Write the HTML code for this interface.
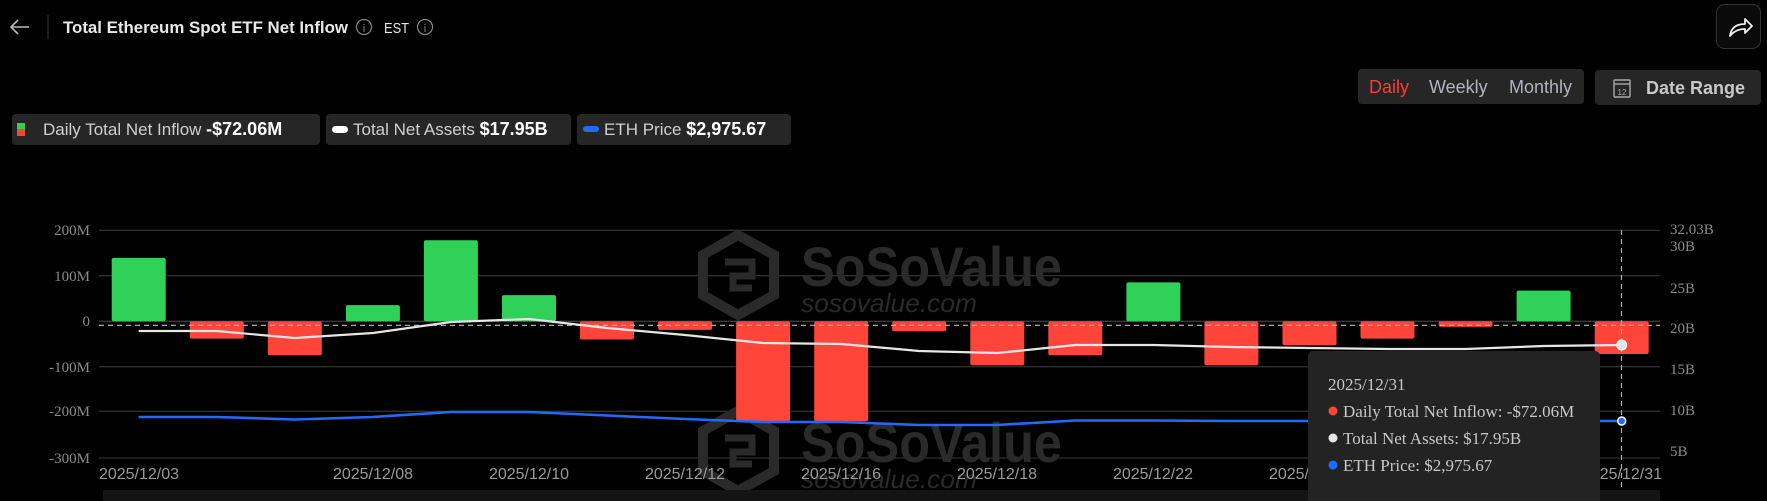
<!DOCTYPE html>
<html><head><meta charset="utf-8"><style>
html,body{margin:0;padding:0;background:#000;width:1767px;height:501px;overflow:hidden;font-family:"Liberation Sans",sans-serif}
.abs{position:absolute}
.leg{position:absolute;top:114px;height:31px;background:#262626;border-radius:4px;color:#cfcfcf;font-size:17px;line-height:31px;white-space:nowrap}
.leg b{color:#fff;font-size:18px}
</style></head><body>
<svg class="abs" style="left:0;top:0" width="1767" height="501">
 <!-- header -->
 <path d="M29 27 H11 M18 20 L11 27 L18 34" stroke="#bbb" stroke-width="1.6" fill="none"/>
 <line x1="48" y1="15" x2="48" y2="39" stroke="#333" stroke-width="1"/>
 <text x="63" y="33" fill="#e8e8e8" font-size="17" font-weight="bold" textLength="285" lengthAdjust="spacingAndGlyphs">Total Ethereum Spot ETF Net Inflow</text>
 <circle cx="364" cy="27" r="7.5" stroke="#888" fill="none" stroke-width="1.2"/><text x="364" y="32" fill="#888" font-size="11" text-anchor="middle">i</text>
 <text x="384" y="33" fill="#e8e8e8" font-size="15" textLength="25" lengthAdjust="spacingAndGlyphs">EST</text>
 <circle cx="425" cy="27" r="7.5" stroke="#888" fill="none" stroke-width="1.2"/><text x="425" y="32" fill="#888" font-size="11" text-anchor="middle">i</text>
 <rect x="1716.5" y="4.5" width="44" height="44" rx="8" fill="#0a0a0a" stroke="#333"/>
 <path d="M1730 36 C1731 28 1736 24 1745 24 V19 L1752 26 L1745 33 V29 C1739 29 1734 31 1730 36Z" fill="none" stroke="#eee" stroke-width="1.8" stroke-linejoin="round"/>
 <rect x="1358" y="69" width="226" height="35" rx="4" fill="#262626"/>
 <text x="1369" y="93" fill="#ff3b30" font-size="18">Daily</text>
 <text x="1429" y="93" fill="#b0b4c0" font-size="18">Weekly</text>
 <text x="1509" y="93" fill="#b0b4c0" font-size="18">Monthly</text>
 <rect x="1595" y="70" width="166" height="35" rx="4" fill="#262626"/>
 <rect x="1614" y="80" width="16" height="17" rx="1" fill="none" stroke="#aaa" stroke-width="1.4"/>
 <line x1="1614" y1="84" x2="1630" y2="84" stroke="#aaa" stroke-width="1.4"/>
 <text x="1622" y="95" fill="#aaa" font-size="8" text-anchor="middle">12</text>
 <text x="1646" y="94" fill="#c8c8c8" font-size="18" font-weight="bold">Date Range</text>

 <!-- grid -->
 <g stroke="#2e2e2e" stroke-width="1.3">
  <line x1="99" y1="230.3" x2="1660" y2="230.3"/>
  <line x1="99" y1="275.7" x2="1660" y2="275.7"/>
  <line x1="99" y1="321.3" x2="1660" y2="321.3" stroke="#3a3a3a"/>
  <line x1="99" y1="366.7" x2="1660" y2="366.7"/>
  <line x1="99" y1="411.3" x2="1660" y2="411.3"/>
  <line x1="99" y1="458" x2="1660" y2="458"/>
 </g>
 <g fill="#8a8a8a" font-size="15" font-family="Liberation Serif,serif" text-anchor="end">
  <text x="90" y="235">200M</text><text x="90" y="281">100M</text><text x="90" y="326">0</text>
  <text x="90" y="372">-100M</text><text x="90" y="416">-200M</text><text x="90" y="463">-300M</text>
 </g>
 <g fill="#8a8a8a" font-size="15" font-family="Liberation Serif,serif">
  <text x="1670" y="234">32.03B</text><text x="1670" y="251">30B</text><text x="1670" y="293">25B</text>
  <text x="1670" y="333">20B</text><text x="1670" y="374">15B</text><text x="1670" y="415">10B</text><text x="1670" y="456">5B</text>
 </g>

 <!-- watermark -->
 <g fill="#2a2a2a" stroke="none">
  <g>
   <path d="M738 235 L774 255 L774 295 L738 315 L703 295 L703 255Z" fill="none" stroke="#2a2a2a" stroke-width="10"/>
   <path d="M725 262 H752 V276 H733 V288 H752" fill="none" stroke="#2a2a2a" stroke-width="7"/>
   <text x="801" y="286" font-size="56" font-weight="bold" textLength="261" lengthAdjust="spacingAndGlyphs">SoSoValue</text>
   <text x="801" y="312" font-size="26" font-style="italic" textLength="176" lengthAdjust="spacingAndGlyphs">sosovalue.com</text>
  </g>
  <g transform="translate(0,176)">
   <path d="M738 235 L774 255 L774 295 L738 315 L703 295 L703 255Z" fill="none" stroke="#2a2a2a" stroke-width="10"/>
   <path d="M725 262 H752 V276 H733 V288 H752" fill="none" stroke="#2a2a2a" stroke-width="7"/>
   <text x="801" y="286" font-size="56" font-weight="bold" textLength="261" lengthAdjust="spacingAndGlyphs">SoSoValue</text>
   <text x="801" y="312" font-size="26" font-style="italic" textLength="176" lengthAdjust="spacingAndGlyphs">sosovalue.com</text>
  </g>
 </g>

 <!-- bars -->
 <g>
  <rect x="111.7" y="257.9" width="54" height="63.4" rx="2" fill="#30d158"/>
  <rect x="189.8" y="321.3" width="54" height="17.3" rx="2" fill="#ff453a"/>
  <rect x="267.8" y="321.3" width="54" height="34" rx="2" fill="#ff453a"/>
  <rect x="345.9" y="305.1" width="54" height="16.2" rx="2" fill="#30d158"/>
  <rect x="423.9" y="240.2" width="54" height="81.1" rx="2" fill="#30d158"/>
  <rect x="502" y="295.1" width="54" height="26.2" rx="2" fill="#30d158"/>
  <rect x="580" y="321.3" width="54" height="18.2" rx="2" fill="#ff453a"/>
  <rect x="658.1" y="321.3" width="54" height="8.6" rx="2" fill="#ff453a"/>
  <rect x="736.1" y="321.3" width="54" height="99.9" rx="2" fill="#ff453a"/>
  <rect x="814.2" y="321.3" width="54" height="99.9" rx="2" fill="#ff453a"/>
  <rect x="892.2" y="321.3" width="54" height="10" rx="2" fill="#ff453a"/>
  <rect x="970.3" y="321.3" width="54" height="44" rx="2" fill="#ff453a"/>
  <rect x="1048.3" y="321.3" width="54" height="34" rx="2" fill="#ff453a"/>
  <rect x="1126.4" y="282.4" width="54" height="38.9" rx="2" fill="#30d158"/>
  <rect x="1204.4" y="321.3" width="54" height="44" rx="2" fill="#ff453a"/>
  <rect x="1282.5" y="321.3" width="54" height="24" rx="2" fill="#ff453a"/>
  <rect x="1360.5" y="321.3" width="54" height="17.3" rx="2" fill="#ff453a"/>
  <rect x="1438.6" y="321.3" width="54" height="5.4" rx="2" fill="#ff453a"/>
  <rect x="1516.6" y="290.6" width="54" height="30.7" rx="2" fill="#30d158"/>
  <rect x="1594.7" y="321.3" width="54" height="32.7" rx="2" fill="#ff453a"/>
 </g>
 <line x1="99" y1="325.3" x2="1660" y2="325.3" stroke="#bbb" stroke-width="1.2" stroke-dasharray="5,4"/>
 <line x1="1621.5" y1="230" x2="1621.5" y2="501" stroke="#aaa" stroke-width="1.2" stroke-dasharray="5,4"/>

 <!-- lines -->
 <polyline fill="none" stroke="#e6e6e6" stroke-width="2.2" stroke-linejoin="round" points="138.7,331 216.8,331 294.8,338 372.9,333 450.9,322 529,319 607,328 685.1,335 763.1,343 841.2,344 919.2,351 997.3,353 1075.3,345 1153.4,345 1231.4,347 1309.5,348 1387.5,349 1465.6,349 1543.6,346 1621.7,345"/>
 <polyline fill="none" stroke="#1f6bff" stroke-width="2.6" stroke-linejoin="round" points="138.7,417 216.8,417 294.8,419.5 372.9,417 450.9,412 529,412 607,415.5 685.1,419 763.1,422 841.2,422 919.2,425 997.3,425 1075.3,420.5 1153.4,420.5 1231.4,421 1309.5,421 1387.5,421 1465.6,421 1543.6,421 1621.7,421"/>
 <circle cx="1621.7" cy="345" r="5" fill="#e6e6e6" stroke="#fff"/>
 <circle cx="1621.7" cy="421" r="4" fill="#1f6bff" stroke="#fff" stroke-width="1.5"/>

 <!-- dates -->
 <g fill="#9a9a9a" font-size="16" text-anchor="middle">
  <text x="139" y="479">2025/12/03</text><text x="373" y="479">2025/12/08</text><text x="529" y="479">2025/12/10</text>
  <text x="685" y="479">2025/12/12</text><text x="841" y="479">2025/12/16</text><text x="997" y="479">2025/12/18</text>
  <text x="1153" y="479">2025/12/22</text><text x="1309" y="479">2025/12/24</text><text x="1622" y="479">2025/12/31</text>
 </g>
 <rect x="103" y="490" width="1557" height="11" fill="#141414"/>

 <!-- tooltip -->
 <rect x="1308" y="351" width="292" height="160" rx="5" fill="#232323"/>
 <g font-family="Liberation Serif,serif" font-size="17" fill="#c8c8c8">
  <text x="1328" y="390">2025/12/31</text>
  <circle cx="1333" cy="411" r="4.5" fill="#ff453a"/><text x="1343" y="417">Daily Total Net Inflow: -$72.06M</text>
  <circle cx="1333" cy="438" r="4.5" fill="#e6e6e6"/><text x="1343" y="444">Total Net Assets: $17.95B</text>
  <circle cx="1333" cy="465" r="4.5" fill="#1f6bff"/><text x="1343" y="471">ETH Price: $2,975.67</text>
 </g>
</svg>
<div class="leg" style="left:12px;width:308px">
 <span class="abs" style="left:5px;top:9px;width:8px;height:6px;background:#30d158"></span>
 <span class="abs" style="left:5px;top:15px;width:8px;height:7px;background:#ff453a"></span>
 <span style="position:absolute;left:31px">Daily Total Net Inflow <b>-$72.06M</b></span>
</div>
<div class="leg" style="left:326px;width:245px">
 <span class="abs" style="left:6px;top:12px;width:16px;height:7px;border-radius:4px;background:#fff"></span>
 <span style="position:absolute;left:27px">Total Net Assets <b>$17.95B</b></span>
</div>
<div class="leg" style="left:577px;width:214px">
 <span class="abs" style="left:6px;top:12px;width:16px;height:6px;border-radius:3px;background:#1f6bff"></span>
 <span style="position:absolute;left:27px">ETH Price <b>$2,975.67</b></span>
</div>
</body></html>
